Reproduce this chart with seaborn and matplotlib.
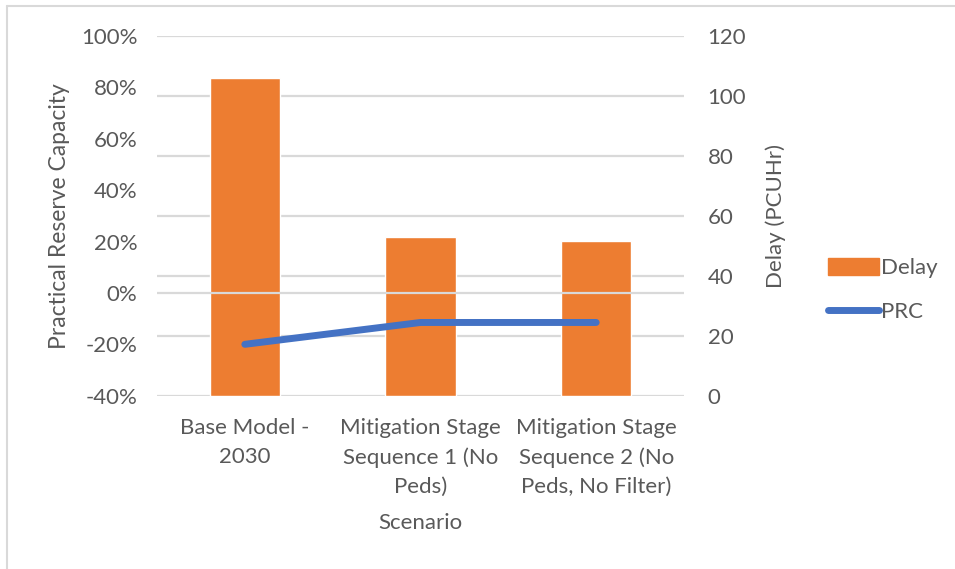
import matplotlib
matplotlib.use("Agg")
import matplotlib.pyplot as plt
from matplotlib.patches import Patch
from matplotlib.lines import Line2D
from matplotlib.ticker import FuncFormatter, MultipleLocator
import seaborn as sns
import pandas as pd

# Scenario results
scenarios = [
    "Base Model -\n2030",
    "Mitigation Stage\nSequence 1 (No\nPeds)",
    "Mitigation Stage\nSequence 2 (No\nPeds, No Filter)",
]
delay_pcuhr = [106.0, 52.8, 51.6]
prc = [-0.20, -0.115, -0.115]

df = pd.DataFrame({"Scenario": scenarios, "Delay": delay_pcuhr, "PRC": prc})

sns.set_theme(style="white")
plt.rcParams["font.family"] = ["Lato", "DejaVu Sans"]

TEXT = "#595959"
GRID = "#D9D9D9"
ORANGE = "#ED7D31"
BLUE = "#4472C4"
FS = 16

fig = plt.figure(figsize=(9.55, 5.69), dpi=100)
ax = fig.add_axes([157 / 955, 1 - 395.7 / 569, (684 - 157) / 955, (395.7 - 36) / 569])
ax2 = ax.twinx()

# Bars on the secondary (Delay) axis, with the gridlines behind them
sns.barplot(data=df, x="Scenario", y="Delay", color=ORANGE, saturation=1,
            width=0.4, ax=ax2, zorder=2)
ax2.set_ylim(0, 120)
ax2.yaxis.set_major_locator(MultipleLocator(20))
ax2.set_axisbelow(True)
ax2.grid(axis="y", color=GRID, linewidth=1.6)
ax2.grid(axis="x", visible=False)
ax2.set_ylabel("Delay (PCUHr)", color=TEXT, fontsize=FS, labelpad=14)

# PRC line on the primary axis, drawn above the bars
ax.set_zorder(ax2.get_zorder() + 1)
ax.patch.set_visible(False)
ax.axhline(0, color=GRID, linewidth=1.6, zorder=1)
sns.lineplot(data=df, x="Scenario", y="PRC", color=BLUE, linewidth=5,
             ax=ax, zorder=3, sort=False)
for ln in ax.lines:
    ln.set_solid_capstyle("round")
ax.set_ylim(-0.4, 1.0)
ax.yaxis.set_major_locator(MultipleLocator(0.2))
ax.yaxis.set_major_formatter(FuncFormatter(lambda v, _: f"{round(v * 100):d}%"))
ax.set_xlim(-0.5, 2.5)
ax.grid(False)
ax.set_ylabel("Practical Reserve Capacity", color=TEXT, fontsize=FS + 0.5, labelpad=8)
ax.set_xlabel("Scenario", color=TEXT, fontsize=FS, labelpad=12)
ax.set_xticks(range(len(scenarios)))
ax.set_xticklabels(scenarios, linespacing=1.55)

for a in (ax, ax2):
    for s in a.spines.values():
        s.set_visible(False)
    a.tick_params(axis="both", colors=TEXT, labelsize=FS, length=0)
ax.tick_params(axis="y", pad=14)
ax2.tick_params(axis="y", pad=17)
ax.tick_params(axis="x", pad=16)

handles = [
    Patch(facecolor=ORANGE, edgecolor=ORANGE),
    Line2D([0], [0], color=BLUE, linewidth=5, solid_capstyle="round"),
]
leg = fig.legend(handles, ["Delay", "PRC"], loc="center left",
                 bbox_to_anchor=(828 / 955, 1 - 290 / 569), frameon=False,
                 fontsize=FS, handlelength=2.3, handleheight=0.8,
                 labelspacing=1.1, handletextpad=0.1,
                 borderpad=0, borderaxespad=0)
for t in leg.get_texts():
    t.set_color(TEXT)

# Chart-area border
fig.add_artist(Line2D([7 / 955, 7 / 955], [0, 1 - 6 / 569], color=GRID, linewidth=1.5))
fig.add_artist(Line2D([7 / 955, 1], [1 - 6 / 569, 1 - 6 / 569], color=GRID, linewidth=1.5))

fig.savefig("out.png", dpi=100)
